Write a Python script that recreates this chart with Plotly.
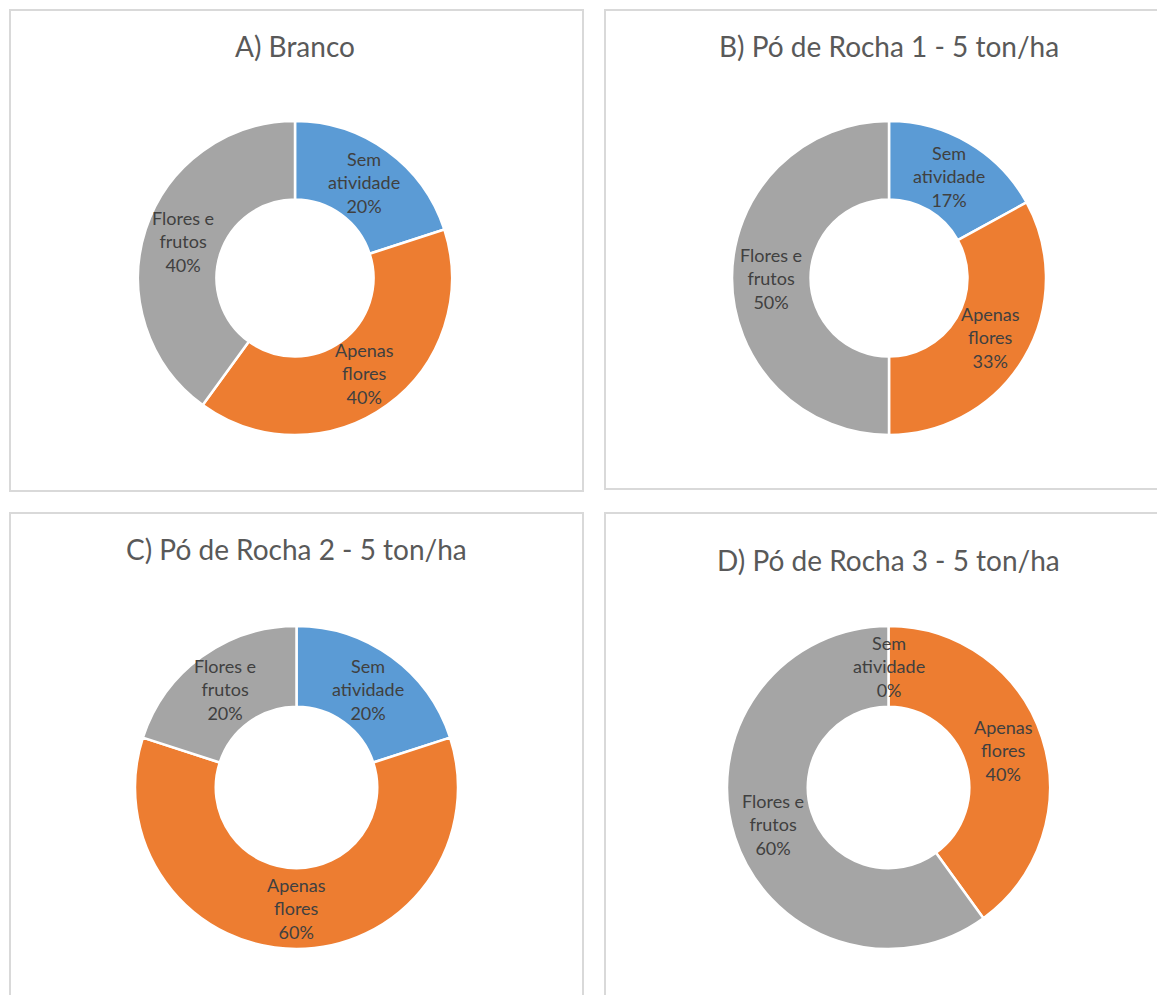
import math
import plotly.graph_objects as go

# Dados das quatro rosquinhas
categorias = ['Sem atividade', 'Apenas flores', 'Flores e frutos']
rotulos = ['Sem<br>atividade', 'Apenas<br>flores', 'Flores e<br>frutos']
titulos = ['A) Branco', 'B) Pó de Rocha 1 - 5 ton/ha',
           'C) Pó de Rocha 2 - 5 ton/ha', 'D) Pó de Rocha 3 - 5 ton/ha']
valores_a = [20, 40, 40]
valores_b = [17, 33, 50]
valores_c = [20, 60, 20]
valores_d = [0, 40, 60]

CORES = ['#5B9BD5', '#ED7D31', '#A5A5A5']
COR_TITULO = '#595959'
COR_ROTULO = '#404040'
COR_BORDA = '#D9D9D9'
FONTE = 'Lato, "Open Sans", sans-serif'
FURO = 0.5

W, H = 1165, 995
OFF = 8  # margem padrão do <body>


def px_x(v):
    return (v - OFF) / W


def px_y(v):
    return 1 - (v - OFF) / H


# caixas dos painéis e área de cada rosquinha (px da página)
paineis = [
    dict(box=(10, 10, 583, 491), pie=(138, 121, 452, 435), ty=46),
    dict(box=(605, 10, 1175, 489), pie=(732, 121, 1046, 435), ty=46),
    dict(box=(10, 513, 583, 1010), pie=(135, 626, 458, 949), ty=549),
    dict(box=(605, 513, 1175, 1010), pie=(727, 626, 1050, 949), ty=560),
]

fig = go.Figure()
shapes = []
annotations = []

for p, titulo, vals in zip(paineis, titulos, [valores_a, valores_b, valores_c, valores_d]):
    x0, y0, x1, y1 = p['pie']
    fig.add_trace(go.Pie(
        labels=categorias,
        values=vals,
        hole=FURO,
        sort=False,
        direction='clockwise',
        rotation=0,
        marker=dict(colors=CORES, line=dict(color='white', width=2.5)),
        textinfo='none',
        domain=dict(x=[px_x(x0), px_x(x1)], y=[px_y(y1), px_y(y0)]),
        showlegend=False,
        hoverinfo='label+percent',
    ))

    # rótulos no meio do anel, no ângulo médio de cada fatia
    cx, cy = (x0 + x1) / 2, (y0 + y1) / 2
    r_meio = (x1 - x0) / 2 * (1 + FURO) / 2
    total = sum(vals)
    acum = 0
    for rot, v in zip(rotulos, vals):
        ang = math.radians(360 * (acum + v / 2) / total)
        acum += v
        annotations.append(dict(
            text=f"{rot}<br>{round(100 * v / total)}%",
            xref='paper', yref='paper',
            x=px_x(cx + r_meio * math.sin(ang)),
            y=px_y(cy - r_meio * math.cos(ang)),
            showarrow=False, xanchor='center', yanchor='middle',
            font=dict(size=18, color=COR_ROTULO, family=FONTE)))

    bx0, by0, bx1, by1 = p['box']
    shapes.append(dict(type='rect', xref='paper', yref='paper',
                       x0=px_x(bx0), x1=px_x(bx1), y0=px_y(by1), y1=px_y(by0),
                       line=dict(color=COR_BORDA, width=2)))
    annotations.append(dict(text=titulo, xref='paper', yref='paper',
                            x=px_x(cx), y=px_y(p['ty']),
                            showarrow=False, xanchor='center', yanchor='middle',
                            font=dict(size=28, color=COR_TITULO, family=FONTE)))

fig.update_layout(
    width=W, height=H,
    margin=dict(l=0, r=0, t=0, b=0),
    paper_bgcolor='white',
    plot_bgcolor='white',
    shapes=shapes,
    annotations=annotations,
    font=dict(family=FONTE),
)

fig.write_html("out.html")
